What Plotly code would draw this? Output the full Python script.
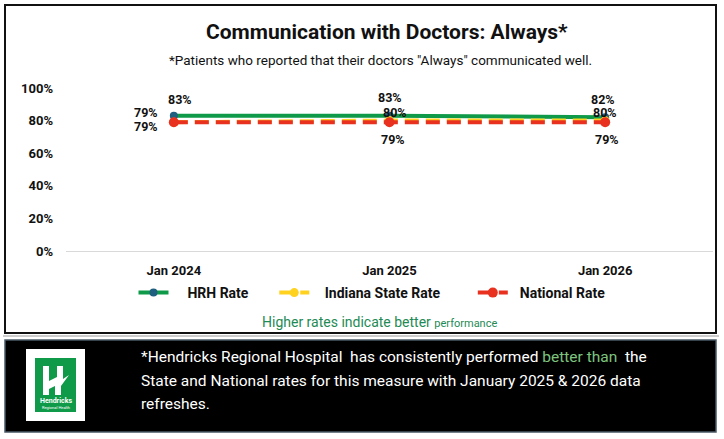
import plotly.graph_objects as go

categories = ["Jan 2024", "Jan 2025", "Jan 2026"]
hrh_rate = [0.83, 0.83, 0.82]
state_rate = [0.79, 0.80, 0.80]
national_rate = [0.79, 0.79, 0.79]
y_ticks = [0, 0.2, 0.4, 0.6, 0.8, 1.0]
y_tick_labels = ["0%", "20%", "40%", "60%", "80%", "100%"]

W, H = 724, 439
L, R, T, B = 66, W - 713, 88, H - 251
PW, PH = W - L - R, H - T - B
FONT = "Roboto, Arial"
NB = "\u00a0"


def px(x):
    return (x - L) / PW


def py(y):
    return (H - B - y) / PH


def path(points):
    return "M " + " L ".join(f"{px(a):.5f},{py(b):.5f}" for a, b in points) + " Z"


fig = go.Figure()
fig.add_trace(go.Scatter(
    x=categories, y=hrh_rate, name=NB * 4 + "HRH Rate" + NB * 6, mode="lines+markers",
    line=dict(color="#0E9A48", width=4),
    marker=dict(color="#1F5F7F", size=8)))
fig.add_trace(go.Scatter(
    x=categories, y=state_rate, name=NB * 3 + "Indiana State Rate" + NB * 8, mode="lines+markers",
    line=dict(color="#FFD21F", width=4, dash="14px,7px"),
    marker=dict(color="#FFD21F", size=9)))
fig.add_trace(go.Scatter(
    x=categories, y=national_rate, name=NB * 2 + "National Rate", mode="lines+markers",
    line=dict(color="#E8311F", width=4, dash="14px,7px"),
    marker=dict(color="#E8311F", size=10)))

ann = []
lab_font = dict(family=FONT, size=12.5, color="#111111", weight="bold")
# data labels
hrh_shift = [(6, 16), (0, 18), (-2, 18)]
state_shift = [(-28, 10), (5, 8.5), (0, 8.5)]
nat_shift = [(-28, -4.5), (3, -17), (2, -17)]
for series, shifts in ((hrh_rate, hrh_shift), (state_rate, state_shift), (national_rate, nat_shift)):
    for c, v, (dx, dy) in zip(categories, series, shifts):
        ann.append(dict(x=c, y=v, xref="x", yref="y", text=f"{round(v*100)}%",
                        showarrow=False, xshift=dx, yshift=dy, font=lab_font))


def note(x, y, text, font, xanchor="center"):
    ann.append(dict(x=px(x), y=py(y), xref="paper", yref="paper", showarrow=False,
                    xanchor=xanchor, yanchor="middle", text=text, font=font))


# titles
note(387, 32, "Communication with Doctors: Always*",
     dict(family=FONT, size=21, color="#111111", weight="bold"))
note(380, 60, '*Patients who reported that their doctors "Always" communicated well.',
     dict(family=FONT, size=13.5, color="#111111"))
note(379, 322, 'Higher rates indicate better <span style="font-size:11px">performance</span>',
     dict(family=FONT, size=14, color="#1E8A55"))
# black box text
lines = [
    '*Hendricks Regional Hospital  has consistently performed <span style="color:#7DC47F">better than</span>  the',
    "State and National rates for this measure with January 2025 & 2026 data",
    "refreshes.",
]
for yy, t in zip((357, 381, 404), lines):
    note(139, yy, t, dict(family=FONT, size=15.5, color="#FFFFFF"), xanchor="left")
# logo texts
note(55.5, 401, "Hendricks", dict(family=FONT, size=7, color="#FFFFFF", weight="bold"))
note(55.5, 407.5, "Regional Health", dict(family=FONT, size=4, color="#FFFFFF"))

white = dict(width=0)
shapes = [
    dict(type="rect", xref="paper", yref="paper", x0=px(5), x1=px(716), y0=py(5), y1=py(333),
         line=dict(color="#111111", width=2), fillcolor="rgba(0,0,0,0)", layer="below"),
    dict(type="line", xref="paper", yref="paper", x0=px(3), x1=px(719), y0=py(336), y1=py(336),
         line=dict(color="#9a9a9a", width=1)),
    dict(type="rect", xref="paper", yref="paper", x0=px(5), x1=px(716), y0=py(340), y1=py(432),
         line=dict(color="#4a5a66", width=1.5), fillcolor="#000000", layer="below"),
    dict(type="rect", xref="paper", yref="paper", x0=px(26), x1=px(85), y0=py(349), y1=py(421),
         line=white, fillcolor="#FFFFFF"),
    dict(type="rect", xref="paper", yref="paper", x0=px(35), x1=px(76), y0=py(358), y1=py(412),
         line=white, fillcolor="#0E9A48"),
    # stylised H
    dict(type="path", xref="paper", yref="paper", fillcolor="#FFFFFF", line=white,
         path=path([(43, 366), (49, 366), (49, 395), (43, 395)])),
    dict(type="path", xref="paper", yref="paper", fillcolor="#FFFFFF", line=white,
         path=path([(57, 366), (63, 366), (63, 379), (69, 375), (61, 386), (61, 395), (55, 395),
                    (55, 386), (49, 389), (49, 381), (57, 377)])),
]

fig.update_layout(
    width=W, height=H, margin=dict(l=L, r=R, t=T, b=B),
    paper_bgcolor="#FFFFFF", plot_bgcolor="#FFFFFF",
    showlegend=True,
    legend=dict(orientation="h", x=px(372), y=py(293), xanchor="center", yanchor="middle",
                font=dict(family=FONT, size=14, color="#111111", weight="bold"),
                bgcolor="rgba(0,0,0,0)", itemwidth=30, traceorder="normal"),
    xaxis=dict(type="category", range=[-0.5, 2.5], showgrid=False, zeroline=False,
               showline=True, linecolor="#D9D9D9", linewidth=1, ticks="",
               ticklabelstandoff=7,
               tickfont=dict(family=FONT, size=13, color="#111111", weight="bold")),
    yaxis=dict(range=[0, 1], tickvals=y_ticks, ticktext=y_tick_labels, showgrid=False,
               zeroline=False, showline=False, ticks="", ticklabelstandoff=12,
               tickfont=dict(family=FONT, size=13, color="#111111", weight="bold")),
    annotations=ann, shapes=shapes,
)
fig.write_html("out.html", config={"displayModeBar": False},
               post_script="document.body.style.margin='0';document.body.style.overflow='hidden';")
